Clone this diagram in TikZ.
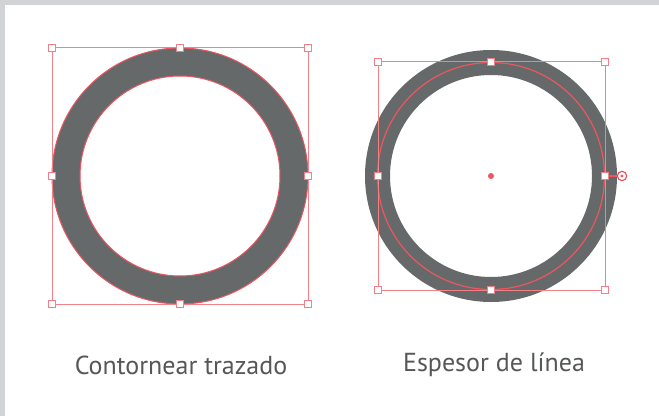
\documentclass[tikz,border=0pt]{standalone}
\usepackage{fontspec}
\setmainfont{PT Sans}
\usepackage{tikz}
\definecolor{ringgray}{RGB}{102,105,106}
\definecolor{selred}{RGB}{236,86,96}
\definecolor{boxred}{RGB}{242,128,134}
\definecolor{framegray}{RGB}{209,211,212}
\definecolor{labelgray}{RGB}{85,87,89}
\tikzset{
  handle/.style={draw=boxred, fill=white, line width=0.9pt, minimum size=5pt, inner sep=0pt, rectangle},
  selbox/.style={draw=boxred, line width=0.75pt},
  caption/.style={text=labelgray, font=\fontsize{19.5}{23}\selectfont, inner sep=0pt}
}
\begin{document}
\begin{tikzpicture}[x=0.75pt,y=0.75pt,yscale=-1,xscale=1]
\useasboundingbox (0,0) rectangle (659,416);
% frame
\fill [framegray] (0,0) rectangle (659,416);
\fill [white] (5,5) rectangle (659,416);

% Left ring: outlined path
\fill [ringgray, even odd rule] (180,176) circle (128) (180,176) circle (100);
\draw [selred, line width=0.75pt] (180,176) circle (128) (180,176) circle (100);
\draw [selbox] (52,48) rectangle (308,304);
\foreach \px/\py [count=\i] in {52/48, 180/48, 308/48, 52/176, 308/176, 52/304, 180/304, 308/304}
  \node [handle] (lh\i) at (\px,\py) {};

% Right ring: stroke weight
\fill [ringgray, even odd rule] (491,176) circle (126) (491,176) circle (101);
\draw [selred, line width=0.9pt] (491,176) circle (113.5);
\draw [selbox] (378,62) rectangle (605,290);
\foreach \px/\py [count=\i] in {378/62, 491/62, 605/62, 378/176, 605/176, 378/290, 491/290, 605/290}
  \node [handle] (rh\i) at (\px,\py) {};
\fill [selred] (491,176) circle (3);
\node [circle, draw=selred, line width=0.9pt, minimum size=7pt, inner sep=0pt] (rot) at (622,176) {};
\fill [selred] (rot.center) circle (1.6);
\draw [selred, line width=0.9pt] (rh5.east) -- (rot.west);

% Captions
\node [caption] (capl) at (181,365) {Contornear trazado};
\node [caption] (capr) at (494,365) {Espesor de línea};

\end{tikzpicture}
\end{document}
